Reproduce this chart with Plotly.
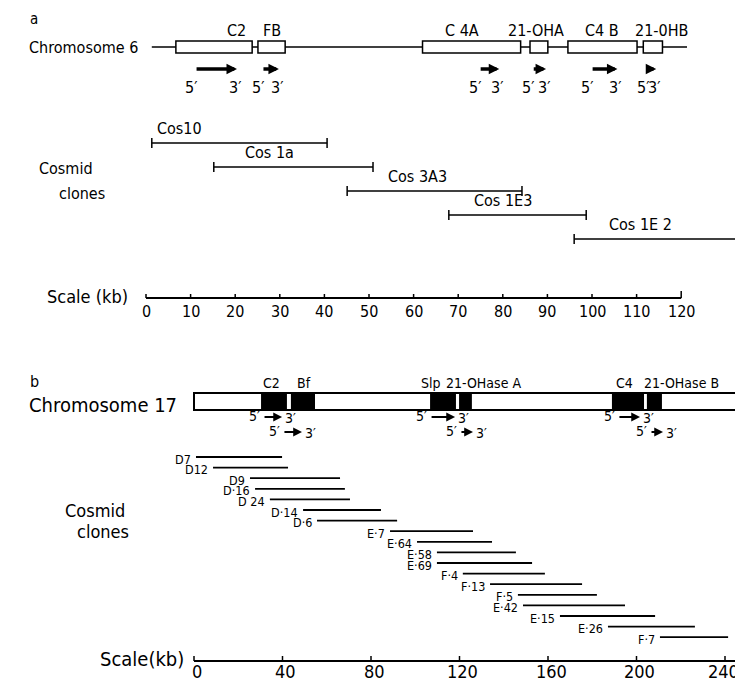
import plotly.graph_objects as go

# ---------------- DATA ----------------
# Panel a: human chromosome 6 (kb)
a_gene_labels = ["C2", "FB", "C 4A", "21-OHA", "C4 B", "21-0HB"]
a_gene_start = [6.7, 25.1, 62.0, 86.1, 94.6, 111.5]
a_gene_end = [23.8, 31.2, 84.0, 90.1, 110.1, 115.8]
a_arrow_start = [11.0, 26.0, 74.7, 86.6, 99.8, 112.4]
a_arrow_end = [20.4, 29.8, 79.2, 89.7, 105.7, 114.4]
a_chrom_span = [1.3, 121.3]
a_clones = ["Cos10", "Cos 1a", "Cos 3A3", "Cos 1E3", "Cos 1E 2"]
a_clone_start = [1.3, 15.2, 45.1, 67.9, 96.0]
a_clone_end = [40.6, 50.9, 84.3, 98.7, 140.0]
a_ticks = [0, 10, 20, 30, 40, 50, 60, 70, 80, 90, 100, 110, 120]

# Panel b: mouse chromosome 17 (kb)
b_gene_labels = ["C2", "Bf", "Slp", "21-OHase A", "C4", "21-OHase B"]
b_gene_start = [30.3, 43.8, 106.7, 119.8, 188.9, 204.7]
b_gene_end = [42.0, 54.7, 118.4, 125.6, 203.4, 211.5]
b_chrom_span = [0.0, 260.0]
b_arrow_start = [31.2, 40.2, 106.7, 120.2, 191.6, 206.1]
b_arrow_end = [39.8, 48.8, 118.0, 126.1, 201.6, 212.0]
b_clones = ["D7", "D12", "D9", "D·16", "D 24", "D·14", "D·6", "E·7", "E·64",
            "E·58", "E·69", "F·4", "F·13", "F·5", "E·42", "E·15", "E·26", "F·7"]
b_clone_start = [0.9, 8.6, 25.3, 27.6, 34.3, 49.3, 55.6, 88.6, 100.8,
                 109.8, 109.8, 121.5, 133.8, 146.4, 148.7, 165.4, 187.1, 210.6]
b_clone_end = [39.8, 42.5, 66.0, 68.2, 70.5, 84.5, 91.8, 126.1, 134.7,
               145.5, 152.8, 158.6, 175.4, 182.1, 194.8, 208.4, 226.4, 241.4]
b_ticks = [0, 40, 80, 120, 160, 200, 240]

# ---------------- LAYOUT CONSTANTS ----------------
W, H = 743, 681          # window size
OFF = 8                  # page body margin
FW, FH = W - OFF, H - OFF
FONT = "DejaVu Sans Condensed, Liberation Sans Narrow, DejaVu Sans, sans-serif"
A_X0, A_PX = 146.0, 4.46        # window pixel of 0 kb, px per kb (panel a)
B_X0, B_PX = 194.0, 2.2125      # panel b

def paper(px):
    return (px - OFF) / FW

fig = go.Figure()
shapes = []
ann = []

def text(x, y, s, size, xref="paper", xanchor="left", yanchor="middle", xshift=0, yshift=0):
    ann.append(dict(x=x, y=y, xref=xref, yref="y", text=s, showarrow=False,
                    xanchor=xanchor, yanchor=yanchor, xshift=xshift, yshift=yshift,
                    font=dict(family=FONT, size=size, color="black")))

def line_trace(xs, ys, xaxis, width, markers=False):
    fig.add_trace(go.Scatter(
        x=xs, y=ys, xaxis=xaxis, yaxis="y",
        mode="lines+markers" if markers else "lines",
        line=dict(color="black", width=width),
        marker=dict(symbol="line-ns", size=7, line=dict(color="black", width=1.5)) if markers else None,
        hoverinfo="skip", showlegend=False))

# ===== Panel a =====
text(paper(28), OFF, "a", 15, yanchor="top")
text(paper(27), 47, "Chromosome 6", 16)
A_CHROM_Y = 47
line_trace(a_chrom_span, [A_CHROM_Y, A_CHROM_Y], "x", 1.5)
a_label_shift = [22, 0, -10, -3, 0, 9]
for i, lab in enumerate(a_gene_labels):
    shapes.append(dict(type="rect", xref="x", yref="y",
                       x0=a_gene_start[i], x1=a_gene_end[i], y0=41, y1=53,
                       line=dict(color="black", width=1.5), fillcolor="white"))
    text((a_gene_start[i] + a_gene_end[i]) / 2, 30, lab, 16, xref="x",
         xanchor="center", xshift=a_label_shift[i])
    ann.append(dict(x=a_arrow_end[i], y=69, ax=a_arrow_start[i], ay=69,
                    xref="x", yref="y", axref="x", ayref="y", text="",
                    showarrow=True, arrowhead=2, arrowsize=0.6, arrowwidth=3.5,
                    arrowcolor="black"))
    text(a_arrow_start[i], 87, "5′", 16, xref="x", xanchor="center", xshift=-4)
    text(a_arrow_end[i], 87, "3′", 16, xref="x", xanchor="center", xshift=-2)

text(paper(37), 168, "Cosmid", 16)
text(paper(57), 193, "clones", 16)
a_clone_lab_shift = [3, 29, 39, 23, 33]
for i, name in enumerate(a_clones):
    y = 143 + 24 * i
    line_trace([a_clone_start[i], a_clone_end[i]], [y, y], "x", 1.5, markers=True)
    text(a_clone_start[i], y - 15, name, 16, xref="x", xshift=a_clone_lab_shift[i])

# scale a
A_SCALE_Y = 298
text(paper(45), 296, "Scale (kb)", 18)
line_trace([a_ticks[0], a_ticks[-1]], [A_SCALE_Y, A_SCALE_Y], "x", 2)
for t in a_ticks:
    h = 7 if t == a_ticks[-1] else 4
    shapes.append(dict(type="line", xref="x", yref="y", x0=t, x1=t,
                       y0=A_SCALE_Y, y1=A_SCALE_Y - h, line=dict(color="black", width=1.5)))
    text(t, 311, str(t), 16, xref="x", xanchor="center")

# ===== Panel b =====
text(paper(28), 381, "b", 16)
text(paper(27), 405, "Chromosome 17", 20)
shapes.append(dict(type="rect", xref="x2", yref="y", x0=b_chrom_span[0], x1=b_chrom_span[1],
                   y0=393, y1=410, line=dict(color="black", width=2), fillcolor="white"))
b_label_shift = [0, 4, -11, -15, 2, -5]
for i, lab in enumerate(b_gene_labels):
    shapes.append(dict(type="rect", xref="x2", yref="y",
                       x0=b_gene_start[i], x1=b_gene_end[i], y0=393, y1=410,
                       line=dict(color="black", width=0), fillcolor="black"))
    text(b_gene_start[i], 383, lab, 14, xref="x2", xshift=b_label_shift[i])
    ya = 417 if i % 2 == 0 else 432
    ann.append(dict(x=b_arrow_end[i], y=ya, ax=b_arrow_start[i], ay=ya,
                    xref="x2", yref="y", axref="x2", ayref="y", text="",
                    showarrow=True, arrowhead=2, arrowsize=0.8, arrowwidth=2.2,
                    arrowcolor="black"))
    text(b_arrow_start[i], ya - 1, "5′", 14, xref="x2", xanchor="right", xshift=-1)
    text(b_arrow_end[i], ya + 1, "3′", 14, xref="x2", xanchor="left", xshift=1)

text(paper(63), 510, "Cosmid", 18)
text(paper(75), 531, "clones", 18)
for i, name in enumerate(b_clones):
    y = 457 + 10.6 * i
    line_trace([b_clone_start[i], b_clone_end[i]], [y, y], "x2", 1.8)
    text(b_clone_start[i], y + 2, name, 12.5, xref="x2", xanchor="right", xshift=-3)

# scale b
B_SCALE_Y = 661
text(paper(98), 659, "Scale(kb)", 20)
line_trace([b_ticks[0], b_chrom_span[1]], [B_SCALE_Y, B_SCALE_Y], "x2", 2)
for t in b_ticks:
    shapes.append(dict(type="line", xref="x2", yref="y", x0=t, x1=t,
                       y0=B_SCALE_Y, y1=B_SCALE_Y - 5, line=dict(color="black", width=1.5)))
    text(t, 671, str(t), 18, xref="x2", xanchor="center",
         xshift=-2 if t == b_ticks[-1] else 3)

a_range = [-(A_X0 - OFF) / A_PX, (W - A_X0) / A_PX]
b_range = [-(B_X0 - OFF) / B_PX, (W - B_X0) / B_PX]
fig.update_layout(
    width=FW, height=FH, margin=dict(l=0, r=0, t=0, b=0),
    paper_bgcolor="white", plot_bgcolor="white",
    xaxis=dict(range=a_range, visible=False, domain=[0, 1]),
    xaxis2=dict(range=b_range, visible=False, overlaying="x", domain=[0, 1]),
    yaxis=dict(range=[H, OFF], visible=False),
    shapes=shapes, annotations=ann, showlegend=False,
)
fig.write_html("out.html")
